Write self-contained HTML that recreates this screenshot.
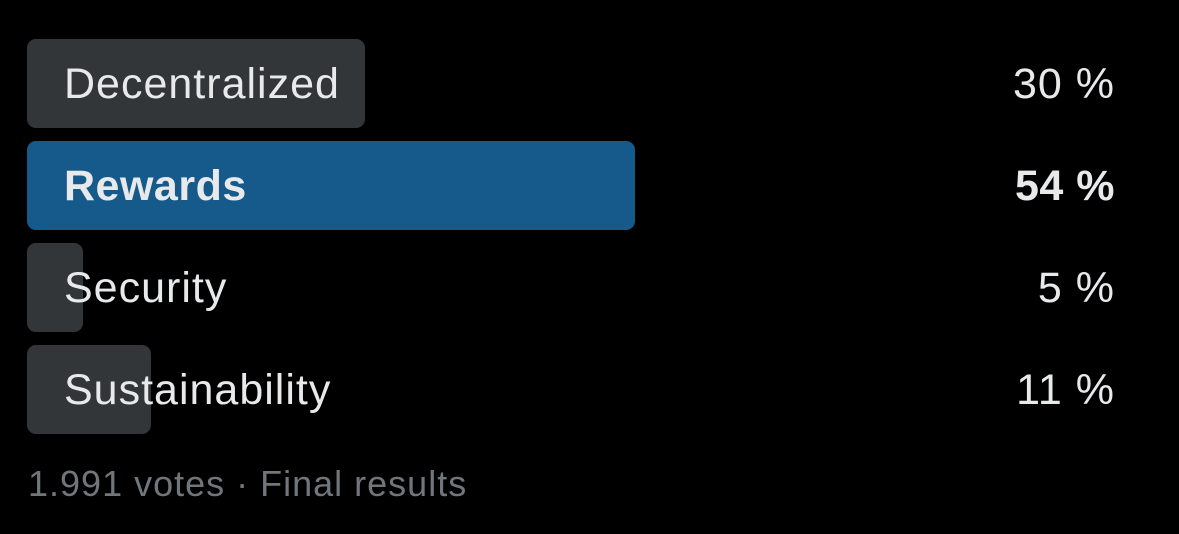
<!DOCTYPE html>
<html><head><meta charset="utf-8"><style>
html,body{margin:0;padding:0;background:#000;width:1179px;height:534px;overflow:hidden;font-family:"Liberation Sans",sans-serif;}
#chart{position:relative;width:1179px;height:534px;}
.bar{position:absolute;left:27px;height:89px;border-radius:9px;background:#333639;}
.lab{position:absolute;left:64px;top:1px;height:89px;line-height:91px;font-size:43px;letter-spacing:1px;color:#e7e9ea;white-space:nowrap;}
.pct{position:absolute;right:64px;height:89px;line-height:91px;font-size:43px;letter-spacing:1px;color:#e7e9ea;white-space:nowrap;}
.win{font-weight:bold;letter-spacing:0.5px;}
#footer{position:absolute;left:28px;top:463px;font-size:36px;letter-spacing:1px;color:#71767b;white-space:nowrap;}
</style></head><body>
<div id="chart"></div>
<script>
const options = ["Decentralized","Rewards","Security","Sustainability"];
const percents = [30,54,5,11];
const winnerIndex = 1;
const chart = document.getElementById('chart');
const pxPerPct = 11.26, top0 = 39, pitch = 102;
function x(v){return v*pxPerPct;}
options.forEach((name,i)=>{
  const y = top0 + i*pitch;
  const bar = document.createElement('div');
  bar.className='bar';
  
  
  bar.style.top=y+'px'; bar.style.width=Math.max(x(percents[i]),18)+'px';
  if(i===winnerIndex) bar.style.background='#155a8a';
  chart.appendChild(bar);
  const lab = document.createElement('div');
  lab.className='lab'+(i===winnerIndex?' win':'');
  
  
  lab.style.top=y+'px'; lab.textContent=name;
  chart.appendChild(lab);
  const p = document.createElement('div');
  p.className='pct'+(i===winnerIndex?' win':'');
  
  
  p.style.top=y+'px'; p.textContent=percents[i]+' %';
  chart.appendChild(p);
});
</script>
<div id="footer">1.991 votes · Final results</div>
</body></html>
